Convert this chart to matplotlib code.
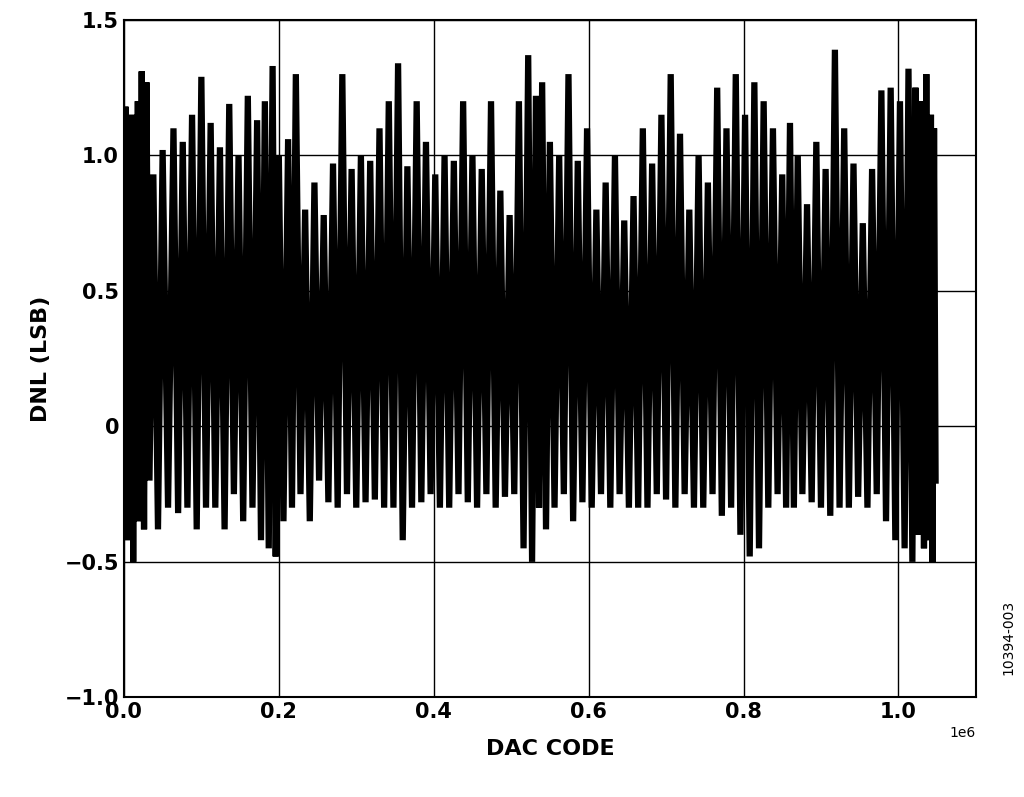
import matplotlib
matplotlib.use("Agg")
import matplotlib.pyplot as plt

# extrema of the DNL trace (code, value)
codes = [0, 2000, 4000, 6000, 8000, 10000, 12000, 14000, 16000, 18000, 20000, 23000, 26000, 29000, 33000,
         38000, 44000, 50000, 57000, 64000, 70000, 76000, 82000, 88000, 94000, 100000, 106000, 112000,
         118000, 124000, 130000, 136000, 142000, 148000, 154000, 160000, 166000, 172000, 177000, 182000,
         187000, 192000, 196000, 200000, 206000, 212000, 217000, 222000, 228000, 234000, 240000, 246000,
         252000, 258000, 264000, 270000, 276000, 282000, 288000, 294000, 300000, 306000, 312000, 318000,
         324000, 330000, 336000, 342000, 348000, 354000, 360000, 366000, 372000, 378000, 384000, 390000,
         396000, 402000, 408000, 414000, 420000, 426000, 432000, 438000, 444000, 450000, 456000, 462000,
         468000, 474000, 480000, 486000, 492000, 498000, 504000, 510000, 516000, 522000, 527000, 532000,
         536000, 540000, 545000, 550000, 556000, 562000, 568000, 574000, 580000, 586000, 592000, 598000,
         604000, 610000, 616000, 622000, 628000, 634000, 640000, 646000, 652000, 658000, 664000, 670000,
         676000, 682000, 688000, 694000, 700000, 706000, 712000, 718000, 724000, 730000, 736000, 742000,
         748000, 754000, 760000, 766000, 772000, 778000, 784000, 790000, 796000, 802000, 808000, 814000,
         820000, 826000, 832000, 838000, 844000, 850000, 855000, 860000, 865000, 870000, 876000, 882000,
         888000, 894000, 900000, 906000, 912000, 918000, 924000, 930000, 936000, 942000, 948000, 954000,
         960000, 966000, 972000, 978000, 984000, 990000, 996000, 1002000, 1008000, 1013000, 1018000,
         1022000, 1026000, 1030000, 1033000, 1036000, 1039000, 1042000, 1044000, 1046000, 1048000]
dnl = [0.1, 1.18, -0.42, 1.1, -0.4, 1.15, -0.5, 1.0, -0.3, 1.2, -0.35, 1.31, -0.38, 1.27, -0.2,
       0.93, -0.38, 1.02, -0.3, 1.1, -0.32, 1.05, -0.3, 1.15, -0.38, 1.29, -0.3, 1.12, -0.3,
       1.03, -0.38, 1.19, -0.25, 1.0, -0.35, 1.22, -0.3, 1.13, -0.42, 1.2, -0.45, 1.33, -0.48,
       1.0, -0.35, 1.06, -0.3, 1.3, -0.25, 0.8, -0.35, 0.9, -0.2, 0.78, -0.28, 0.97, -0.3,
       1.3, -0.25, 0.95, -0.3, 1.0, -0.28, 0.98, -0.27, 1.1, -0.3, 1.2, -0.3, 1.34, -0.42,
       0.96, -0.3, 1.2, -0.28, 1.05, -0.25, 0.93, -0.3, 1.0, -0.3, 0.98, -0.25, 1.2, -0.28,
       1.0, -0.3, 0.95, -0.25, 1.2, -0.3, 0.87, -0.26, 0.78, -0.25, 1.2, -0.45, 1.37, -0.5,
       1.22, -0.3, 1.27, -0.38, 1.05, -0.3, 1.0, -0.25, 1.3, -0.35, 0.98, -0.28, 1.1, -0.3,
       0.8, -0.25, 0.9, -0.3, 1.0, -0.25, 0.76, -0.3, 0.85, -0.3, 1.1, -0.3, 0.97, -0.25,
       1.15, -0.27, 1.3, -0.3, 1.08, -0.25, 0.8, -0.3, 1.0, -0.3, 0.9, -0.25, 1.25, -0.33,
       1.1, -0.3, 1.3, -0.4, 1.15, -0.48, 1.27, -0.45, 1.2, -0.3, 1.1, -0.25, 0.93, -0.3,
       1.12, -0.3, 1.0, -0.25, 0.82, -0.28, 1.05, -0.3, 0.95, -0.33, 1.39, -0.3, 1.1, -0.3,
       0.97, -0.26, 0.75, -0.3, 0.95, -0.25, 1.24, -0.35, 1.25, -0.42, 1.2, -0.45, 1.32, -0.5,
       1.25, -0.4, 1.2, -0.45, 1.3, -0.42, 1.15, -0.5,
       1.1, -0.2]

fig = plt.figure(figsize=(10.24, 7.97), dpi=100)
ax = fig.add_axes([0.121, 0.125, 0.832, 0.85])
ax.plot(codes, dnl, color="black", lw=4.5, solid_joinstyle="miter")
ax.set_xlim(0, 1100000)
ax.set_ylim(-1.0, 1.5)
ax.set_xticks([0, 200000, 400000, 600000, 800000, 1000000])
ax.set_yticks([-1.0, -0.5, 0, 0.5, 1.0, 1.5])
ax.set_yticklabels(["−1.0", "−0.5", "0", "0.5", "1.0", "1.5"])
ax.grid(True, color="black", lw=1)
for s in ax.spines.values():
    s.set_linewidth(1.5)
ax.tick_params(labelsize=15, width=1.2, length=0)
for lab in ax.get_xticklabels() + ax.get_yticklabels():
    lab.set_fontweight("bold")
ax.set_xlabel("DAC CODE", fontsize=16, fontweight="bold", labelpad=12)
ax.set_ylabel("DNL (LSB)", fontsize=16, fontweight="bold", labelpad=10)
fig.text(0.985, 0.2, "10394-003", rotation=90, fontsize=10, ha="center", va="center")
fig.savefig("out.png", dpi=100)
